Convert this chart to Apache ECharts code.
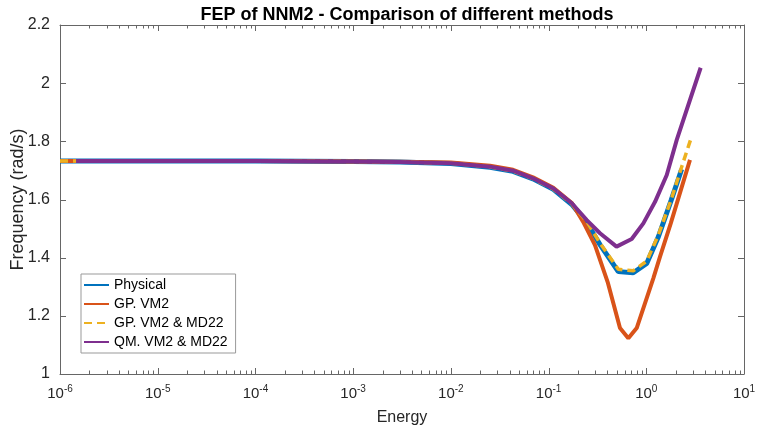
<!DOCTYPE html>
<html>
<head>
<meta charset="utf-8">
<script src="https://cdn.jsdelivr.net/npm/echarts@6/dist/echarts.min.js"></script>
<style>
  html, body { margin: 0; padding: 0; background: #fff; }
  #chart { width: 758px; height: 434px; }
</style>
</head>
<body>
<div id="chart"></div>
<script>
// Frequency vs. energy along the second nonlinear normal mode, four modelling approaches
const seriesNames = ['Physical', 'GP. VM2', 'GP. VM2 & MD22', 'QM. VM2 & MD22'];

const energyPhysical = [1e-6, 1e-5, 1e-4, 1e-3, 3e-3, 0.01, 0.0252, 0.0433, 0.0693, 0.112, 0.173, 0.246, 0.336, 0.517, 0.736, 1.01, 1.33, 1.8, 2.3];
const freqPhysical   = [1.732, 1.732, 1.732, 1.731, 1.729, 1.724, 1.711, 1.697, 1.671, 1.635, 1.583, 1.520, 1.445, 1.352, 1.348, 1.380, 1.472, 1.598, 1.704];

const energyGpVm2 = [1e-6, 1e-5, 1e-4, 1e-3, 3e-3, 0.01, 0.0252, 0.0433, 0.0693, 0.112, 0.173, 0.2255, 0.2985, 0.405, 0.538, 0.655, 0.798, 1.18, 1.38, 1.78, 2.8];
const freqGpVm2   = [1.732, 1.732, 1.732, 1.731, 1.730, 1.727, 1.716, 1.702, 1.676, 1.640, 1.588, 1.524, 1.443, 1.313, 1.158, 1.123, 1.158, 1.329, 1.403, 1.518, 1.736];

const energyGpVm2Md22 = [1e-6, 1e-5, 1e-4, 1e-3, 3e-3, 0.01, 0.0252, 0.0433, 0.0693, 0.112, 0.173, 0.246, 0.336, 0.517, 0.736, 1.01, 1.33, 1.8, 2.3, 2.85];
const freqGpVm2Md22   = [1.732, 1.732, 1.732, 1.731, 1.729, 1.725, 1.712, 1.698, 1.672, 1.636, 1.585, 1.524, 1.450, 1.360, 1.355, 1.388, 1.478, 1.600, 1.712, 1.807];

const energyQmVm2Md22 = [1.46e-6, 1e-5, 1e-4, 1e-3, 3e-3, 0.01, 0.0252, 0.0433, 0.0693, 0.112, 0.173, 0.246, 0.336, 0.496, 0.709, 0.933, 1.229, 1.62, 2.05, 3.6];
const freqQmVm2Md22   = [1.732, 1.732, 1.732, 1.731, 1.729, 1.725, 1.713, 1.699, 1.673, 1.638, 1.587, 1.529, 1.484, 1.438, 1.464, 1.518, 1.592, 1.684, 1.805, 2.053];

// Axis ranges and tick positions
const xMin = 1e-6, xMax = 10;
const yMin = 1, yMax = 2.2, yStep = 0.2;
const yTickValues = [1, 1.2, 1.4, 1.6, 1.8, 2, 2.2];
const decadeEnergies = [1e-6, 1e-5, 1e-4, 1e-3, 1e-2, 1e-1, 1, 10];
const minorTickEnergies = [];
for (let d = -6; d < 1; d++) {
  for (let m = 2; m <= 9; m++) minorTickEnergies.push(m * Math.pow(10, d));
}

const pairs = (xs, ys) => xs.map((x, i) => [x, ys[i]]);

const FONT = "'Liberation Sans', Arial, Helvetica, sans-serif";
const AXIS_COLOR = '#666666';
const TEXT_COLOR = '#262626';
const MAJOR_TICK = 6;
const MINOR_TICK = 3.5;

const chart = echarts.init(document.getElementById('chart'));

function logAxis(position, showLabels) {
  const axis = {
    type: 'log',
    position: position,
    min: xMin,
    max: xMax,
    interval: 1,
    splitLine: { show: false },
    axisLine: { show: true, onZero: false, lineStyle: { color: AXIS_COLOR, width: 1 } },
    axisTick: { show: false },
    axisLabel: { show: false }
  };
  if (showLabels) {
    axis.name = 'Energy';
    axis.nameLocation = 'middle';
    axis.nameGap = 36;
    axis.nameMoveOverlap = false;
    axis.nameTextStyle = { fontFamily: FONT, fontSize: 16, color: TEXT_COLOR };
    axis.axisLabel = {
      show: true,
      margin: 10,
      formatter: (v) => '{b|10}{s|' + Math.round(Math.log10(v)) + '}',
      rich: {
        b: { fontFamily: FONT, fontSize: 15, color: TEXT_COLOR },
        s: { fontFamily: FONT, fontSize: 10, color: TEXT_COLOR, padding: [0, 0, 10, 0] }
      }
    };
  }
  return axis;
}

function valueAxis(position, showLabels) {
  const axis = {
    type: 'value',
    position: position,
    min: yMin,
    max: yMax,
    interval: yStep,
    splitLine: { show: false },
    axisLine: { show: true, onZero: false, lineStyle: { color: AXIS_COLOR, width: 1 } },
    axisTick: { show: false },
    axisLabel: { show: false }
  };
  if (showLabels) {
    axis.name = 'Frequency (rad/s)';
    axis.nameLocation = 'middle';
    axis.nameGap = 33;
    axis.nameMoveOverlap = false;
    axis.nameRotate = 90;
    axis.nameTextStyle = { fontFamily: FONT, fontSize: 18, color: TEXT_COLOR };
    axis.axisLabel = { show: true, fontFamily: FONT, fontSize: 16, color: TEXT_COLOR, margin: 10 };
  }
  return axis;
}

// Inward tick marks on all four sides of the frame
const tickStyle = { stroke: AXIS_COLOR, lineWidth: 1 };

function renderXTicks(params, api) {
  const e = api.value(0);
  const len = api.value(1);
  const b = api.coord([e, yMin]);
  const t = api.coord([e, yMax]);
  const x = Math.round(b[0]) + 0.5;
  return {
    type: 'group',
    children: [
      { type: 'line', shape: { x1: x, y1: b[1], x2: x, y2: b[1] - len }, style: tickStyle },
      { type: 'line', shape: { x1: x, y1: t[1], x2: x, y2: t[1] + len }, style: tickStyle }
    ]
  };
}

function renderYTicks(params, api) {
  const v = api.value(1);
  const l = api.coord([xMin, v]);
  const r = api.coord([xMax, v]);
  const y = Math.round(l[1]) + 0.5;
  return {
    type: 'group',
    children: [
      { type: 'line', shape: { x1: l[0], y1: y, x2: l[0] + MAJOR_TICK, y2: y }, style: tickStyle },
      { type: 'line', shape: { x1: r[0], y1: y, x2: r[0] - MAJOR_TICK, y2: y }, style: tickStyle }
    ]
  };
}

const xTickData = decadeEnergies.map((e) => [e, MAJOR_TICK])
  .concat(minorTickEnergies.map((e) => [e, MINOR_TICK]));

const option = {
  animation: false,
  title: {
    text: 'FEP of NNM2 - Comparison of different methods',
    left: 402,
    top: 1,
    textAlign: 'center',
    textStyle: { fontFamily: FONT, fontSize: 18, fontWeight: 'bold', color: '#000' }
  },
  grid: { left: 60, right: 14, top: 25, bottom: 60, outerBoundsMode: 'none' },
  legend: {
    data: seriesNames,
    orient: 'vertical',
    left: 81,
    top: 274,
    itemWidth: 25,
    itemHeight: 14,
    itemGap: 5,
    padding: [4, 8, 4, 2],
    backgroundColor: '#fff',
    borderColor: '#999',
    borderWidth: 1,
    borderRadius: 0,
    itemStyle: { opacity: 0 },
    textStyle: { fontFamily: FONT, fontSize: 14, color: '#000' }
  },
  xAxis: [logAxis('bottom', true), logAxis('top', false)],
  yAxis: [valueAxis('left', true), valueAxis('right', false)],
  series: [
    {
      name: seriesNames[0], type: 'line',
      data: pairs(energyPhysical, freqPhysical),
      symbol: 'none', z: 2,
      color: '#0072BD',
      lineStyle: { color: '#0072BD', width: 5 }
    },
    {
      name: seriesNames[1], type: 'line',
      data: pairs(energyGpVm2, freqGpVm2),
      symbol: 'none', z: 3,
      color: '#D95319',
      lineStyle: { color: '#D95319', width: 4 }
    },
    {
      name: seriesNames[2], type: 'line',
      data: pairs(energyGpVm2Md22, freqGpVm2Md22),
      symbol: 'none', z: 4,
      color: '#EDB120',
      lineStyle: { color: '#EDB120', width: 3.5, type: [8, 5] }
    },
    {
      name: seriesNames[3], type: 'line',
      data: pairs(energyQmVm2Md22, freqQmVm2Md22),
      symbol: 'none', z: 5,
      color: '#7E2F8E',
      lineStyle: { color: '#7E2F8E', width: 4 }
    },
    {
      name: 'x ticks', type: 'custom',
      data: xTickData,
      encode: { x: 0 },
      renderItem: renderXTicks,
      clip: false, silent: true, z: 10
    },
    {
      name: 'y ticks', type: 'custom',
      data: yTickValues.map((v) => [xMin, v]),
      renderItem: renderYTicks,
      clip: false, silent: true, z: 10
    }
  ]
};

chart.setOption(option);
</script>
</body>
</html>
